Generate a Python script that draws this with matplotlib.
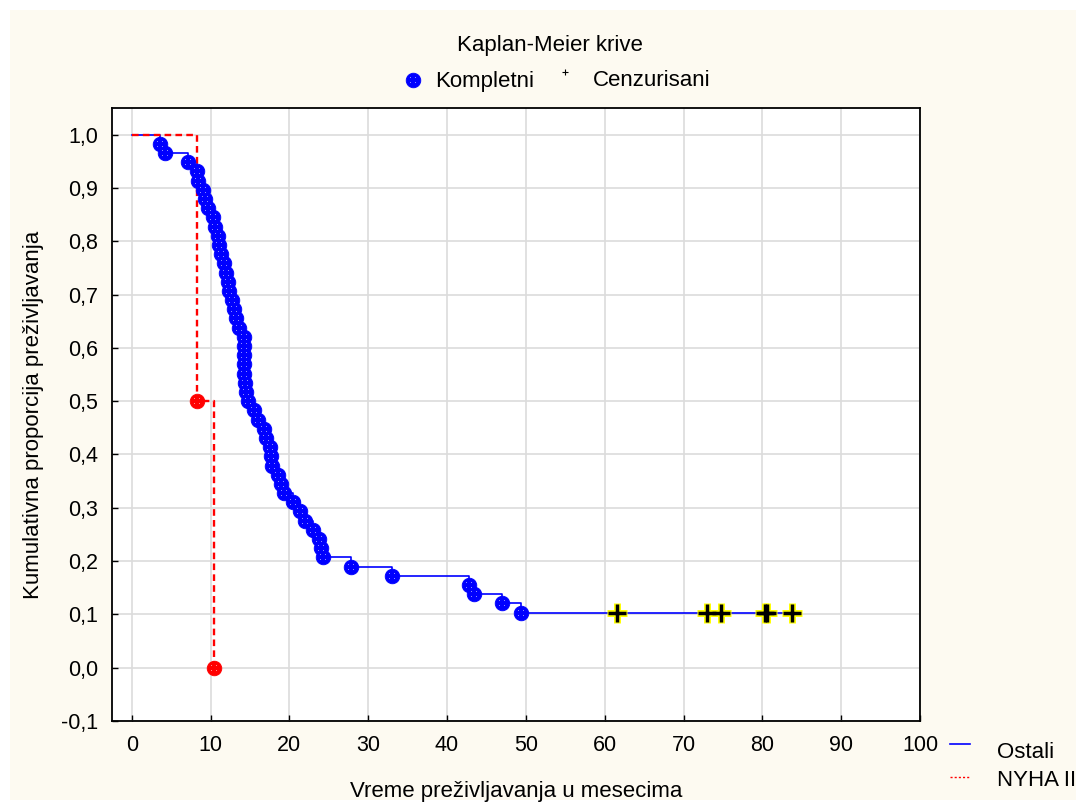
#!/usr/bin/env python3
"""Kaplan-Meier survival curves: Ostali vs NYHA II."""

import numpy as np
import matplotlib
matplotlib.use('Agg')
import matplotlib.pyplot as plt
from matplotlib.lines import Line2D
from matplotlib.patches import Rectangle
from matplotlib.path import Path
from matplotlib.ticker import FuncFormatter

plt.rcParams['font.family'] = ['Liberation Sans', 'DejaVu Sans']

# ---- data (months) ----
ostali_event_times = [3.6, 4.2, 7.1, 8.3, 8.4, 9.0, 9.3, 9.7, 10.3, 10.6,
                      10.9, 11.1, 11.3, 11.7, 12.0, 12.2, 12.3, 12.7, 13.0, 13.2,
                      13.6, 14.2, 14.3, 14.3, 14.3, 14.3, 14.4, 14.5, 14.7, 15.5,
                      16.0, 16.8, 17.0, 17.6, 17.7, 17.8, 18.6, 19.0, 19.3, 20.4,
                      21.3, 22.0, 23.0, 23.8, 24.0, 24.3, 27.8, 33.0, 42.8, 43.4,
                      47.0, 49.4]
ostali_censor_times = [61.5, 73.0, 74.7, 80.3, 80.6, 83.8]

nyha_event_times = [8.3, 10.4]
nyha_censor_times = []

x_ticks = list(range(0, 101, 10))
y_ticks = [-0.1, 0.0, 0.1, 0.2, 0.3, 0.4, 0.5, 0.6, 0.7, 0.8, 0.9, 1.0]


def kaplan_meier(events, censored):
    """Product-limit estimate; returns event times, survival after each event, level at censor times."""
    n = len(events) + len(censored)
    s = 1.0
    ev_t, ev_s = [], []
    for t in sorted(events):
        s *= (n - 1) / n
        n -= 1
        ev_t.append(t)
        ev_s.append(s)
    cen_s = [ev_s[-1] if ev_t and ev_t[-1] <= c else 1.0 for c in censored]
    return ev_t, ev_s, cen_s


def step_xy(ev_t, ev_s, end_t):
    xs = [0.0] + list(ev_t) + [end_t]
    ys = [1.0] + list(ev_s) + [ev_s[-1]]
    return xs, ys


# small white speckles drawn on top of each circle marker
def speckle_path():
    h = 0.09
    centres = [(-0.5, -0.5), (0.5, -0.5), (-0.5, 0.5), (0.5, 0.5), (0.0, 0.0),
               (0.0, -0.95), (0.95, 0.0)]
    squares = [Path([(cx - h, cy - h), (cx + h, cy - h), (cx + h, cy + h),
                     (cx - h, cy + h), (cx - h, cy - h)], closed=True)
               for cx, cy in centres]
    return Path.make_compound_path(*squares)


SPECK = speckle_path()
MS = 10.5  # circle marker size (points)


def dotted_circles(axis, x, y, color, z=4):
    axis.plot(x, y, linestyle='none', marker='o', markersize=MS,
              markerfacecolor=color, markeredgecolor=color, markeredgewidth=0.6, zorder=z)
    axis.plot(x, y, linestyle='none', marker=SPECK, markersize=MS * 0.7,
              markerfacecolor='white', markeredgewidth=0, alpha=0.55, zorder=z + 0.1)


W, H = 1076, 802
fig = plt.figure(figsize=(W / 100, H / 100), dpi=100)
fig.patch.set_facecolor('white')
fig.add_artist(Rectangle((10 / W, 2 / H), (W - 10) / W, (H - 12) / H,
                         transform=fig.transFigure, facecolor='#fdfaf1',
                         edgecolor='none', zorder=-10))

ax = fig.add_axes([112 / W, (H - 721) / H, 808 / W, 613 / H])
ax.set_facecolor('white')

blue = '#0000ff'
red = '#ff0000'

# Ostali
o_t, o_s, o_cs = kaplan_meier(ostali_event_times, ostali_censor_times)
xs, ys = step_xy(o_t, o_s, max(ostali_censor_times))
ax.step(xs, ys, where='post', color=blue, linewidth=1.2, zorder=3)
dotted_circles(ax, o_t, o_s, blue)
ax.plot(ostali_censor_times, o_cs, linestyle='none', marker='+', markersize=15,
        markeredgecolor='#ffff00', markeredgewidth=5, zorder=5)
ax.plot(ostali_censor_times, o_cs, linestyle='none', marker='+', markersize=13,
        markeredgecolor='black', markeredgewidth=2.5, zorder=6)

# NYHA II
n_t, n_s, _ = kaplan_meier(nyha_event_times, nyha_censor_times)
xs, ys = step_xy(n_t, n_s, n_t[-1])
ax.step(xs, ys, where='post', color=red, linewidth=1.7, linestyle=(0, (2.8, 1.8)), zorder=3)
dotted_circles(ax, n_t, n_s, red)

ax.set_xlim(-2.5, 100)
ax.set_ylim(-0.1, 1.05)
ax.set_xticks(x_ticks)
ax.set_yticks(y_ticks)
ax.yaxis.set_major_formatter(FuncFormatter(lambda v, p: f'{v:.1f}'.replace('.', ',')))
ax.tick_params(direction='in', length=4, width=1, labelsize=15.5, pad=10,
               top=False, right=False)
ax.grid(True, color='#dcdcdc', linewidth=1.2, zorder=0)
ax.set_axisbelow(True)
for sp in ax.spines.values():
    sp.set_linewidth(1.3)
    sp.set_color('black')

ax.set_xlabel('Vreme preživljavanja u mesecima', fontsize=16, labelpad=18)
ax.set_ylabel('Kumulativna proporcija preživljavanja', fontsize=16, labelpad=12)

# overlay in pixel coordinates for the legends
ov = fig.add_axes([0, 0, 1, 1], zorder=10)
ov.set_xlim(0, W)
ov.set_ylim(H, 0)
ov.axis('off')
ov.patch.set_alpha(0)

ov.text(550, 45, 'Kaplan-Meier krive', fontsize=16, ha='center', va='center')
dotted_circles(ov, [413], [80], blue)
ov.text(435, 81, 'Kompletni', fontsize=16, ha='left', va='center')
ov.add_line(Line2D([565], [72], marker='+', markersize=5, color='black',
                   markeredgewidth=0.8, linestyle='none'))
ov.text(593, 81, 'Cenzurisani', fontsize=16, ha='left', va='center')

ov.add_line(Line2D([950, 970], [744, 744], color=blue, linewidth=1.2))
ov.text(997, 752, 'Ostali', fontsize=16, ha='left', va='center')
ov.add_line(Line2D([950, 970], [777, 777], color=red, linewidth=1.0,
                   linestyle=(0, (1.5, 1.5))))
ov.text(997, 781, 'NYHA II', fontsize=16, ha='left', va='center')

fig.savefig('out.png', dpi=100)
